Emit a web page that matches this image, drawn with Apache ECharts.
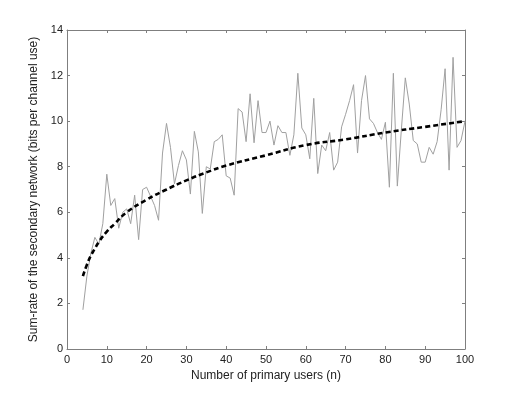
<!DOCTYPE html>
<html>
<head>
<meta charset="utf-8">
<script src="https://cdn.jsdelivr.net/npm/echarts@6/dist/echarts.min.js"></script>
<style>
	html, body { margin: 0; padding: 0; background: #fff; }
	#chart { width: 512px; height: 396px; }
</style>
</head>
<body>
<div id="chart"></div>
<script>
// Simulated sum-rate, one value per n = 4..100
const simN = [];
for (let n = 4; n <= 100; n++) simN.push(n);
const simRate = [
	1.72, 3.2, 4.2, 4.9, 4.6, 5.5, 7.67, 6.3, 6.6, 5.3,
	6.0, 6.15, 5.5, 6.75, 4.8, 7.0, 7.1, 6.7, 6.3, 5.65,
	8.6, 9.9, 8.85, 7.25, 8.05, 8.7, 8.3, 6.8, 9.55, 8.65,
	5.95, 8.0, 7.9, 9.1, 9.2, 9.4, 7.6, 7.5, 6.75, 10.55,
	10.4, 9.1, 11.2, 9.05, 10.9, 9.5, 9.5, 10.0, 8.95, 9.8,
	9.5, 9.5, 8.5, 9.4, 12.1, 9.7, 9.4, 8.35, 11.0, 7.7,
	8.95, 8.7, 9.5, 7.85, 8.2, 9.75, 10.3, 10.9, 11.6, 8.6,
	10.9, 12.0, 10.1, 9.9, 9.5, 9.2, 9.95, 7.1, 12.1, 7.15,
	9.6, 11.9, 10.75, 9.15, 9.0, 8.2, 8.2, 8.85, 8.55, 9.1,
	10.5, 12.3, 7.85, 12.8, 8.85, 9.15, 10.0
];

// Analytical curve (dashed), read at a few n
const theoryN = [4, 5, 6, 7, 8, 10, 12, 15, 20, 25, 30, 35, 40, 50, 60, 70, 80, 90, 100];
const theoryRate = [3.2, 3.7, 4.1, 4.4, 4.7, 5.15, 5.5, 6.0, 6.55, 7.0, 7.4, 7.75, 8.05, 8.5, 8.95, 9.2, 9.5, 9.75, 10.0];

const xTicks = [0, 100, 10];
const yTicks = [0, 14, 2];

const font = "Liberation Sans, Arial, sans-serif";
const axisGray = "#7f7f7f";

function boxAxis(min, max, interval, position, showLabel, name) {
	return {
		type: "value",
		position: position,
		min: min,
		max: max,
		interval: interval,
		name: name || "",
		nameLocation: "middle",
		nameGap: position === "left" ? 24 : 18,
		nameTextStyle: { color: "#222", fontSize: 12, fontFamily: font },
		axisLine: { show: true, onZero: false, lineStyle: { color: axisGray, width: 1 } },
		axisTick: { show: true, inside: true, length: 3, lineStyle: { color: axisGray } },
		axisLabel: {
			show: showLabel,
			color: "#222",
			fontSize: 11,
			fontFamily: font,
			margin: position === "left" ? 4 : 5,
		},
		splitLine: { show: false },
	};
}

const chart = echarts.init(document.getElementById("chart"));
chart.setOption({
	animation: false,
	backgroundColor: "#fff",
	grid: { left: 67, right: 47, top: 30, bottom: 47 },
	xAxis: [
		boxAxis(xTicks[0], xTicks[1], xTicks[2], "bottom", true, "Number of primary users (n)"),
		boxAxis(xTicks[0], xTicks[1], xTicks[2], "top", false),
	],
	yAxis: [
		boxAxis(yTicks[0], yTicks[1], yTicks[2], "left", true, "Sum-rate of the secondary network (bits per channel use)"),
		boxAxis(yTicks[0], yTicks[1], yTicks[2], "right", false),
	],
	series: [
		{
			type: "line",
			data: simN.map((n, i) => [n, simRate[i]]),
			symbol: "none",
			lineStyle: { color: "#a0a0a0", width: 1 },
			z: 2,
		},
		{
			type: "line",
			data: theoryN.map((n, i) => [n, theoryRate[i]]),
			symbol: "none",
			smooth: true,
			lineStyle: { color: "#000", width: 2.6, type: [5, 3] },
			z: 3,
		},
	],
});
</script>
</body>
</html>
